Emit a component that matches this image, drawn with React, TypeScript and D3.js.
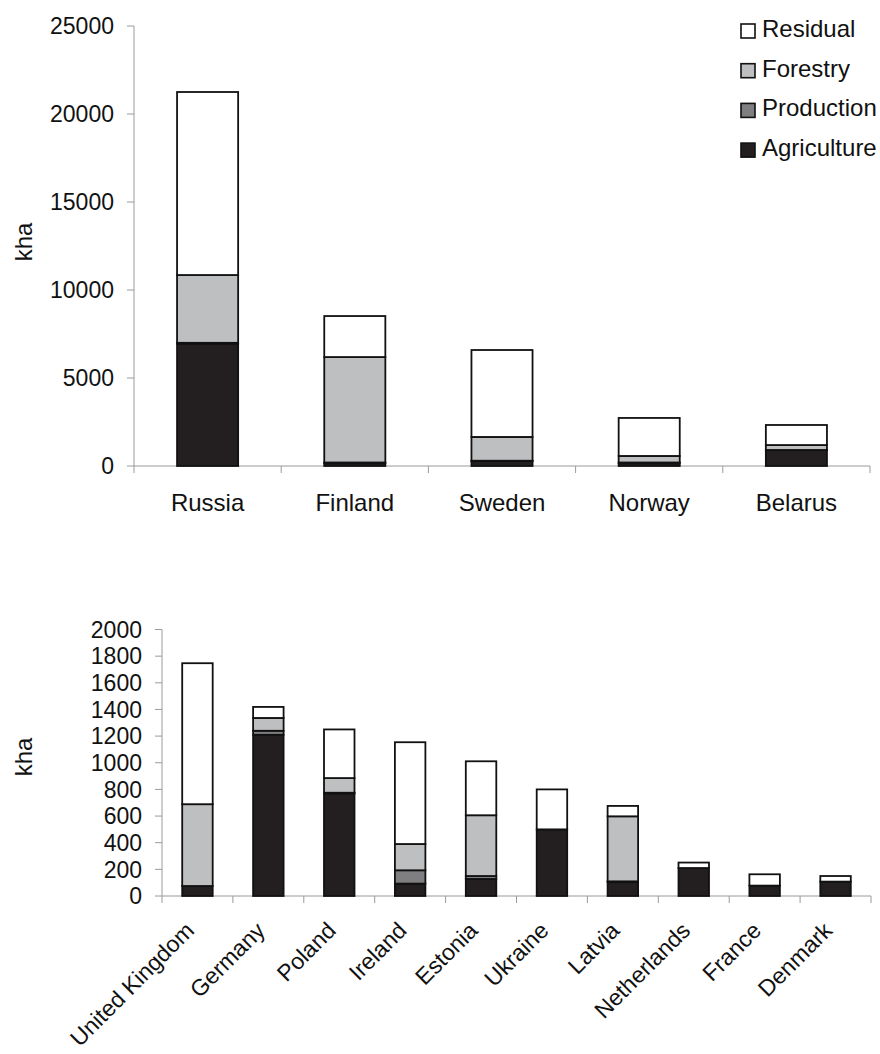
import * as d3 from "d3";

// series order, bottom to top of each stack
const seriesKeys = ["Agriculture", "Production", "Forestry", "Residual"];
const seriesColors = ["#231f20", "#7f7f81", "#bebfc1", "#ffffff"];
const legendOrder = ["Residual", "Forestry", "Production", "Agriculture"];

// upper panel (kha)
const bigCountries = ["Russia", "Finland", "Sweden", "Norway", "Belarus"];
const bigAgriculture = [6950, 150, 280, 150, 900];
const bigProduction = [50, 50, 20, 50, 10];
const bigForestry = [3850, 5990, 1350, 370, 280];
const bigResidual = [10400, 2330, 4940, 2160, 1140];
const bigTicks = [0, 5000, 10000, 15000, 20000, 25000];

// lower panel (kha)
const smallCountries = [
  "United Kingdom",
  "Germany",
  "Poland",
  "Ireland",
  "Estonia",
  "Ukraine",
  "Latvia",
  "Netherlands",
  "France",
  "Denmark",
];
const smallAgriculture = [75, 1210, 770, 93, 128, 500, 105, 210, 78, 108];
const smallProduction = [0, 30, 5, 100, 22, 0, 5, 0, 0, 0];
const smallForestry = [614, 96, 110, 197, 456, 0, 488, 0, 0, 0];
const smallResidual = [1058, 83, 365, 764, 405, 300, 78, 41, 85, 42];
const smallTicks = [0, 200, 400, 600, 800, 1000, 1200, 1400, 1600, 1800, 2000];

const FONT = "'Liberation Sans', Arial, sans-serif";
const AXIS = "#9a9a9a";
const INK = "#111";

interface Row {
  country: string;
  [key: string]: string | number;
}

const buildRows = (
  countries: string[],
  agri: number[],
  prod: number[],
  forest: number[],
  resid: number[]
): Row[] =>
  countries.map((c, i) => ({
    country: c,
    Agriculture: agri[i],
    Production: prod[i],
    Forestry: forest[i],
    Residual: resid[i],
  }));

interface ChartProps {
  rows: Row[];
  ticks: number[];
  x0: number;
  x1: number;
  yTop: number;
  yBottom: number;
  barRatio: number;
  rotateLabels: boolean;
  kha: [number, number];
}

const StackedChart = ({ rows, ticks, x0, x1, yTop, yBottom, barRatio, rotateLabels, kha }: ChartProps) => {
  const x = d3
    .scaleBand<string>()
    .domain(rows.map((d) => d.country))
    .range([x0, x1]);
  const y = d3
    .scaleLinear()
    .domain([0, ticks[ticks.length - 1]])
    .range([yBottom, yTop]);

  const stacked = d3.stack<Row>().keys(seriesKeys)(rows);
  const bw = x.bandwidth() * barRatio;

  return (
    <g>
      {/* axes */}
      <line x1={x0} x2={x0} y1={yTop} y2={yBottom} stroke={AXIS} strokeWidth={1} />
      <line x1={x0} x2={x1} y1={yBottom} y2={yBottom} stroke={AXIS} strokeWidth={1} />
      {ticks.map((t) => (
        <g key={t}>
          <line x1={x0 - 7} x2={x0} y1={y(t)} y2={y(t)} stroke={AXIS} />
          <text
            x={x0 - 20}
            y={y(t)}
            dy="0.36em"
            textAnchor="end"
            fontSize={23}
            fontFamily={FONT}
            fill={INK}
          >
            {t}
          </text>
        </g>
      ))}
      {rows.map((d, i) => (
        <line
          key={"xt" + i}
          x1={x0 + x.step() * (i + 1)}
          x2={x0 + x.step() * (i + 1)}
          y1={yBottom}
          y2={yBottom + 7}
          stroke={AXIS}
        />
      ))}
      <line x1={x0} x2={x0} y1={yBottom} y2={yBottom + 7} stroke={AXIS} />

      {/* bars */}
      {stacked.map((s, si) =>
        s.map((seg, i) => {
          const h = y(seg[0]) - y(seg[1]);
          if (h <= 0) return null;
          const cx = (x(rows[i].country) as number) + x.bandwidth() / 2;
          return (
            <rect
              key={s.key + i}
              x={cx - bw / 2}
              y={y(seg[1])}
              width={bw}
              height={h}
              fill={seriesColors[si]}
              stroke={INK}
              strokeWidth={1.8}
            />
          );
        })
      )}

      {/* category labels */}
      {rows.map((d) => {
        const cx = (x(d.country) as number) + x.bandwidth() / 2;
        return rotateLabels ? (
          <text
            key={d.country}
            transform={`translate(${cx - 2},${yBottom + 36}) rotate(-45)`}
            textAnchor="end"
            fontSize={23}
            fontFamily={FONT}
            fill={INK}
          >
            {d.country}
          </text>
        ) : (
          <text
            key={d.country}
            x={cx}
            y={yBottom + 45}
            textAnchor="middle"
            fontSize={24}
            fontFamily={FONT}
            fill={INK}
          >
            {d.country}
          </text>
        );
      })}

      <text
        transform={`translate(${kha[0]},${kha[1]}) rotate(-90)`}
        textAnchor="middle"
        dy="0.36em"
        fontSize={24}
        fontFamily={FONT}
        fill={INK}
      >
        kha
      </text>
    </g>
  );
};

const Legend = () => (
  <g>
    {legendOrder.map((k, i) => {
      const c = seriesColors[seriesKeys.indexOf(k)];
      const base = 37 + i * 39.7;
      return (
        <g key={k}>
          <rect x={741} y={base - 13} width={14} height={14} fill={c} stroke={INK} strokeWidth={1.6} />
          <text x={762} y={base} fontSize={24} fontFamily={FONT} fill={INK}>
            {k}
          </text>
        </g>
      );
    })}
  </g>
);

export default function App() {
  const bigRows = buildRows(bigCountries, bigAgriculture, bigProduction, bigForestry, bigResidual);
  const smallRows = buildRows(smallCountries, smallAgriculture, smallProduction, smallForestry, smallResidual);
  return (
    <svg
      width={880}
      height={1054}
      style={{ position: "absolute", left: 0, top: 0, background: "#fff", display: "block" }}
    >
      <StackedChart
        rows={bigRows}
        ticks={bigTicks}
        x0={134}
        x1={870}
        yTop={26}
        yBottom={466}
        barRatio={0.415}
        rotateLabels={false}
        kha={[23, 242]}
      />
      <Legend />
      <StackedChart
        rows={smallRows}
        ticks={smallTicks}
        x0={162}
        x1={871}
        yTop={629.5}
        yBottom={896}
        barRatio={0.43}
        rotateLabels={true}
        kha={[23, 757]}
      />
    </svg>
  );
}
